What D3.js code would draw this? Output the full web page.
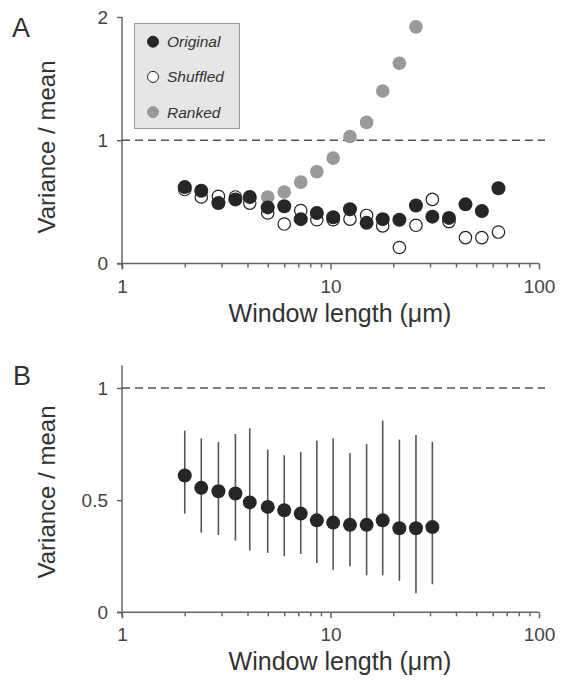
<!DOCTYPE html>
<html>
<head>
<meta charset="utf-8">
<script src="https://cdn.jsdelivr.net/npm/d3@7"></script>
<style>
  body { margin: 0; background: #fff; }
  svg { display: block; font-family: "Liberation Sans", Arial, sans-serif; }
  .axis path, .axis line { stroke: #666; stroke-width: 1.5; }
  .axis text { fill: #444; font-size: 19px; font-family: "Liberation Sans", Arial, sans-serif; }
</style>
</head>
<body>
<svg id="chart" width="564" height="681"></svg>
<script>
// window lengths (um)
var windows = [2, 2.4, 2.9, 3.5, 4.1, 5.0, 6.0, 7.2, 8.6, 10.3, 12.4, 14.9, 17.8, 21.4, 25.7, 30.8, 37.0, 44.4, 53.2, 63.9];

// panel A
var original = [0.62, 0.59, 0.49, 0.52, 0.54, 0.455, 0.465, 0.36, 0.41, 0.375, 0.44, 0.33, 0.36, 0.355, 0.47, 0.38, 0.37, 0.48, 0.425, 0.61];
var shuffled = [0.60, 0.54, 0.545, 0.54, 0.49, 0.41, 0.32, 0.43, 0.355, 0.355, 0.36, 0.39, 0.305, 0.13, 0.31, 0.52, 0.34, 0.21, 0.21, 0.255];
var ranked = [0.61, 0.58, 0.50, 0.52, 0.53, 0.54, 0.58, 0.66, 0.745, 0.855, 1.03, 1.145, 1.40, 1.625, 1.92];

// panel B (mean with range)
var meanB = [0.61, 0.555, 0.54, 0.53, 0.49, 0.47, 0.455, 0.44, 0.41, 0.40, 0.39, 0.39, 0.41, 0.375, 0.375, 0.38];
var upperB = [0.81, 0.775, 0.76, 0.795, 0.82, 0.725, 0.70, 0.715, 0.765, 0.775, 0.71, 0.75, 0.855, 0.77, 0.79, 0.76];
var lowerB = [0.44, 0.355, 0.345, 0.32, 0.275, 0.265, 0.25, 0.26, 0.22, 0.19, 0.205, 0.165, 0.165, 0.14, 0.085, 0.125];

var legendItems = [
  {name: "Original", fill: "#262626", stroke: "#262626"},
  {name: "Shuffled", fill: "#fff", stroke: "#222"},
  {name: "Ranked", fill: "#999", stroke: "#999"}
];

var svg = d3.select("#chart");
var left = 122, right = 539;

var x = d3.scaleLog().domain([1, 100]).range([left, right]);
var yA = d3.scaleLinear().domain([0, 2]).range([263.5, 17]);
var yB = d3.scaleLinear().domain([0, 1.1]).range([612.3, 365.6]);

var minorTicks = [1,2,3,4,5,6,7,8,9,10,20,30,40,50,60,70,80,90,100];

function drawAxes(y, yTicks, fmt, bottom, labelY) {
  var xAxis = svg.append("g")
      .attr("class", "axis")
      .attr("transform", "translate(0," + y(0) + ")")
      .call(d3.axisBottom(x)
          .tickValues(minorTicks)
          .tickSize(4)
          .tickSizeOuter(0)
          .tickFormat(d => [1, 10, 100].indexOf(d) >= 0 ? d : ""));
  xAxis.selectAll(".tick text").attr("dy", "0.95em").attr("y", 11);
  xAxis.selectAll(".tick").filter(d => d === 1 || d === 10 || d === 100)
      .select("line").attr("y2", 6);
  xAxis.select(".domain").attr("d", "M" + (left - 5) + ",0H" + right);

  var yAxis = svg.append("g")
      .attr("class", "axis")
      .attr("transform", "translate(" + left + ",0)")
      .call(d3.axisLeft(y).tickValues(yTicks).tickSize(5).tickSizeOuter(0).tickFormat(fmt));
  yAxis.selectAll(".tick text").attr("x", -14);
  yAxis.select(".domain").attr("d", "M0," + y.range()[1] + "V" + (y(0) + 5));

  // dashed line at 1
  svg.append("line")
      .attr("x1", left).attr("x2", 545)
      .attr("y1", y(1)).attr("y2", y(1))
      .attr("stroke", "#555").attr("stroke-width", 1.5)
      .attr("stroke-dasharray", "8,5");

  svg.append("text")
      .attr("x", 340)
      .attr("y", bottom)
      .attr("text-anchor", "middle")
      .attr("fill", "#333")
      .style("font-size", "25px")
      .text("Window length (\u03bcm)");

  svg.append("text")
      .attr("transform", "translate(55," + labelY + ")rotate(-90)")
      .attr("text-anchor", "middle")
      .attr("fill", "#333")
      .style("font-size", "24px")
      .text("Variance / mean");
}

drawAxes(yA, [0, 1, 2], d3.format("d"), 322, 147);
drawAxes(yB, [0, 0.5, 1], d => d === 0.5 ? "0.5" : d, 670, 492);

// panel letters
svg.append("text").attr("x", 12).attr("y", 37).attr("fill", "#333").style("font-size", "27px").text("A");
svg.append("text").attr("x", 13).attr("y", 385).attr("fill", "#333").style("font-size", "27px").text("B");

// panel A points
svg.append("g").selectAll("circle")
    .data(ranked).enter().append("circle")
    .attr("cx", (d, i) => x(windows[i]))
    .attr("cy", d => yA(d))
    .attr("r", 6.8)
    .attr("fill", "#999");

svg.append("g").selectAll("circle")
    .data(shuffled).enter().append("circle")
    .attr("cx", (d, i) => x(windows[i]))
    .attr("cy", d => yA(d))
    .attr("r", 6.2)
    .attr("fill", "#fff")
    .attr("stroke", "#222")
    .attr("stroke-width", 1.2);

svg.append("g").selectAll("circle")
    .data(original).enter().append("circle")
    .attr("cx", (d, i) => x(windows[i]))
    .attr("cy", d => yA(d))
    .attr("r", 7)
    .attr("fill", "#262626");

// legend
var legend = svg.append("g");
legend.append("rect")
    .attr("x", 134.5).attr("y", 23.5)
    .attr("width", 105).attr("height", 105)
    .attr("fill", "#e6e6e6")
    .attr("stroke", "#999")
    .attr("stroke-width", 1);

var li = legend.selectAll(".li")
    .data(legendItems).enter().append("g")
    .attr("transform", (d, i) => "translate(153," + (41.7 + i * 35.2) + ")");
li.append("circle")
    .attr("r", 5.5)
    .attr("fill", d => d.fill)
    .attr("stroke", d => d.stroke)
    .attr("stroke-width", 1);
li.append("text")
    .attr("x", 14).attr("dy", "0.36em")
    .attr("fill", "#333")
    .style("font-size", "15.5px")
    .style("font-style", "italic")
    .text(d => d.name);

// panel B
var gB = svg.append("g");
gB.selectAll("line")
    .data(meanB).enter().append("line")
    .attr("x1", (d, i) => x(windows[i]))
    .attr("x2", (d, i) => x(windows[i]))
    .attr("y1", (d, i) => yB(upperB[i]))
    .attr("y2", (d, i) => yB(lowerB[i]))
    .attr("stroke", "#555")
    .attr("stroke-width", 1.6);
gB.selectAll("circle")
    .data(meanB).enter().append("circle")
    .attr("cx", (d, i) => x(windows[i]))
    .attr("cy", d => yB(d))
    .attr("r", 7)
    .attr("fill", "#262626");
</script>
</body>
</html>
